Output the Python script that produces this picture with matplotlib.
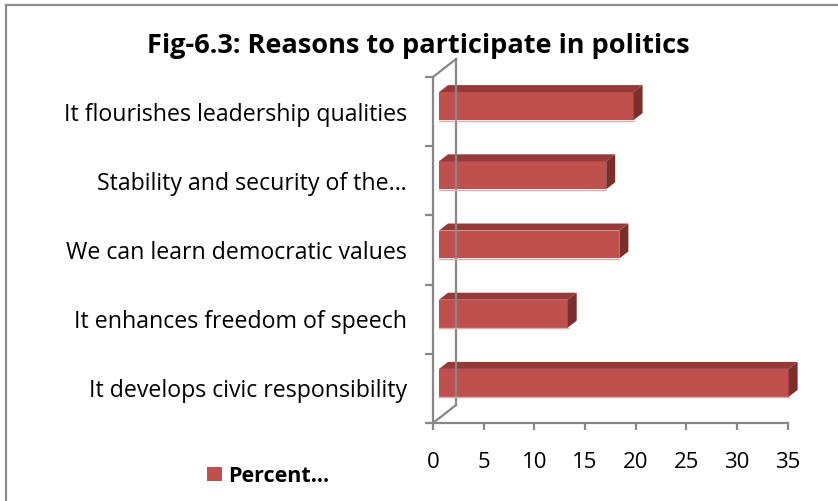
import matplotlib
matplotlib.use("Agg")
import matplotlib.pyplot as plt
from matplotlib.patches import Polygon, Patch
from matplotlib.transforms import ScaledTranslation, IdentityTransform
from matplotlib.lines import Line2D
import numpy as np

# Data (bottom to top)
categories = [
    "It develops civic responsibility",
    "It enhances freedom of speech",
    "We can learn democratic values",
    "Stability and security of the\u2026",
    "It flourishes leadership qualities",
]
percent = [34.5, 12.7, 17.8, 16.5, 19.2]
x_ticks = [0, 5, 10, 15, 20, 25, 30, 35]
series_name = "Percent\u2026"
title = "Fig-6.3: Reasons to participate in politics"

FONT = "Open Sans"
FRONT = "#C0504D"
TOP = "#953A38"
SIDE = "#7A2F2D"
AXIS = "#878787"

W, H = 838, 501
fig = plt.figure(figsize=(W / 100, H / 100), dpi=100)
fig.patch.set_facecolor("white")

ax = fig.add_axes([433 / W, 78 / H, (787.7 - 433) / W, (424 - 78) / H])
ax.set_xlim(0, 35)
ax.set_ylim(-0.5, len(categories) - 0.5)
ax.patch.set_alpha(0)
for s in ("top", "right"):
    ax.spines[s].set_visible(False)
for s in ("left", "bottom"):
    ax.spines[s].set_color(AXIS)
    ax.spines[s].set_linewidth(1.6)
    ax.spines[s].set_zorder(5)

ax.set_xticks(x_ticks)
ax.set_xticklabels([str(t) for t in x_ticks], fontsize=16, family=FONT)
ax.tick_params(axis="x", direction="out", length=5, width=1.6, color=AXIS, pad=16)

bounds = np.arange(-0.5, len(categories), 1.0)
ax.set_yticks(bounds)
ax.set_yticklabels([])
ax.tick_params(axis="y", which="major", direction="out", length=6, width=1.6, color=AXIS)
ax.set_yticks(range(len(categories)), minor=True)
ax.set_yticklabels(categories, minor=True, fontsize=16.7, family=FONT)
ax.tick_params(axis="y", which="minor", length=0, pad=18.7)

# oblique depth projection (pixels)
depth = np.array([23.0, 18.0])


def disp(x, y, off=(0, 0)):
    p = ax.transData.transform((x, y))
    return p + np.asarray(off)


ident = IdentityTransform()

# back wall and floor/top connectors
y_lo, y_hi = -0.5, len(categories) - 0.5
for a, b in [
    (disp(0, y_lo, depth), disp(0, y_hi, depth)),
    (disp(0, y_lo), disp(0, y_lo, depth)),
    (disp(0, y_hi), disp(0, y_hi, depth)),
]:
    fig.add_artist(Line2D([a[0], b[0]], [a[1], b[1]], color=AXIS, lw=1.6,
                          transform=ident, zorder=1))

# 3-D bars
bh = 28 / 69.3
front_off = np.array([6.0, 5.5])
bar_depth = np.array([9.0, 7.0])
front_tr = ax.transData + ScaledTranslation(front_off[0] / 100, front_off[1] / 100,
                                            fig.dpi_scale_trans)
ax.barh(range(len(categories)), percent, height=bh, color=FRONT,
        edgecolor="none", transform=front_tr, zorder=3, clip_on=False)
for i, v in enumerate(percent):
    y0, y1 = i - bh / 2, i + bh / 2
    B = disp(v, y0, front_off)
    C = disp(v, y1, front_off)
    D = disp(0, y1, front_off)
    A = disp(0, y0, front_off)
    top = Polygon([D, C, C + bar_depth, D + bar_depth], closed=True,
                  facecolor=TOP, edgecolor="none", transform=ident, clip_on=False, zorder=3)
    side = Polygon([B, C, C + bar_depth, B + bar_depth], closed=True,
                   facecolor=SIDE, edgecolor="none", transform=ident, clip_on=False, zorder=3)
    ax.add_patch(top)
    ax.add_patch(side)
    fig.add_artist(Line2D([A[0], B[0]], [A[1] - 0.5, B[1] - 0.5], color="#E4A9A8",
                          lw=1.0, transform=ident, zorder=4))

# title
fig.text(418 / W, (H - 53) / H, title, ha="center", va="baseline",
         fontsize=19.5, fontweight="bold", family=FONT)

# legend
fig.legend(handles=[Patch(facecolor=FRONT, edgecolor="none")], labels=[series_name],
           loc="center left", bbox_to_anchor=(207 / W, (H - 476) / H),
           frameon=False, handlelength=0.68, handleheight=0.68, handletextpad=0.3,
           borderpad=0, borderaxespad=0,
           prop={"family": FONT, "weight": "bold", "size": 15.5})

# outer frame (left and top edges)
fig.add_artist(Line2D([5.5 / W, 5.5 / W], [0, (H - 5) / H], color="#8C8C8C", lw=1.6,
                      transform=fig.transFigure))
fig.add_artist(Line2D([5.5 / W, 1], [(H - 5) / H, (H - 5) / H], color="#8C8C8C", lw=1.6,
                      transform=fig.transFigure))

fig.savefig("out.png", dpi=100)
